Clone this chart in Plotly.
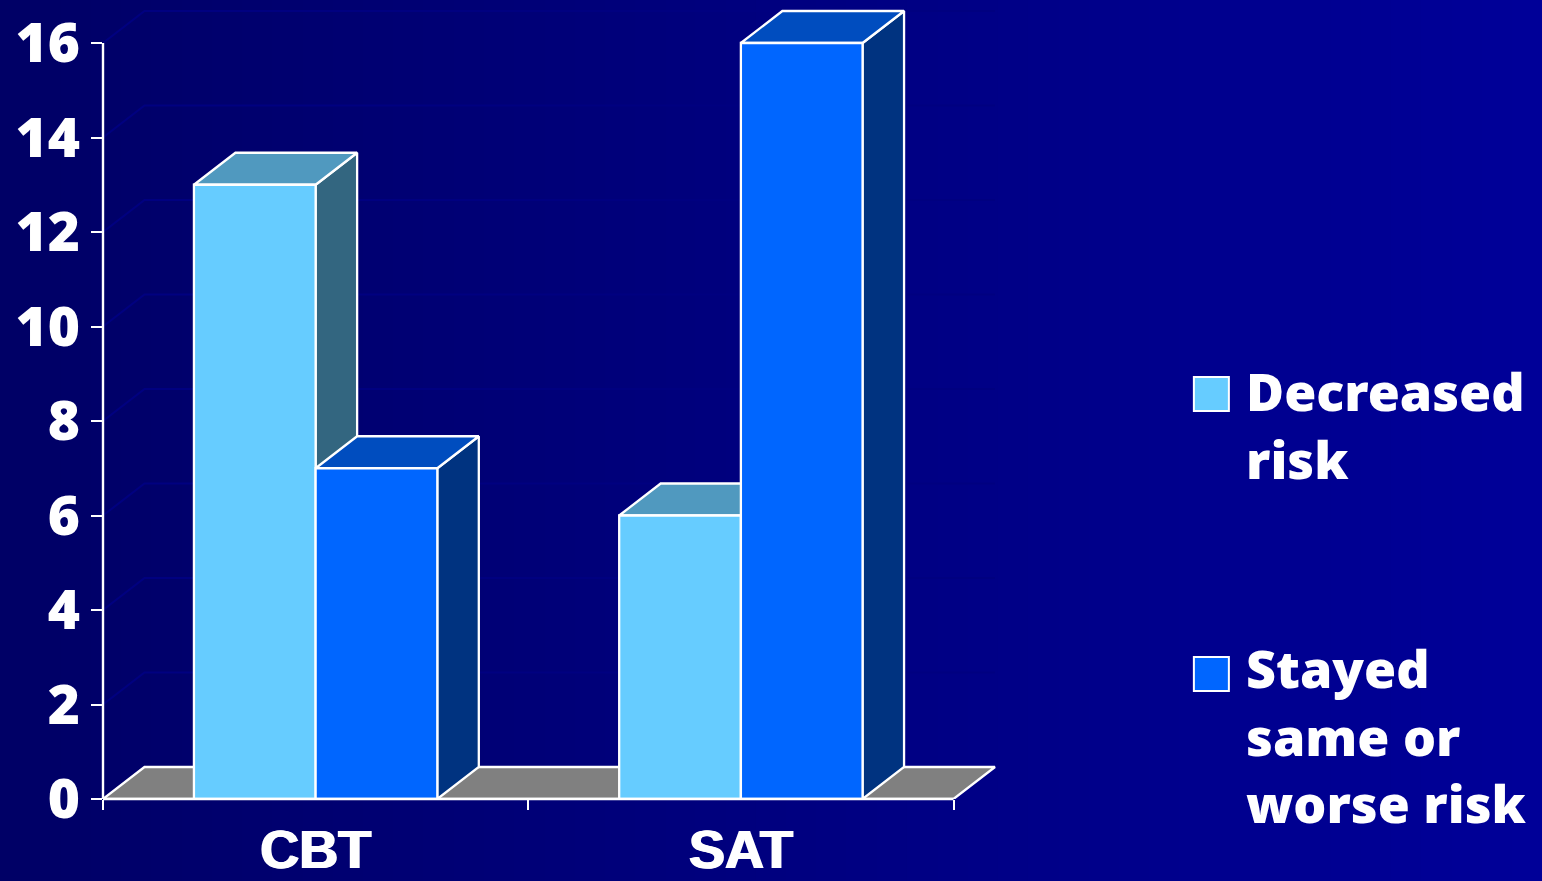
import plotly.graph_objects as go

# Chart data
categories = ["CBT", "SAT"]
series_names = ["Decreased risk", "Stayed same or worse risk"]
decreased_risk = [13, 6]
stayed_same_or_worse = [7, 16]
y_ticks = [0, 2, 4, 6, 8, 10, 12, 14, 16]
legend_labels = ["Decreased<br>risk", "Stayed<br>same or<br>worse risk"]

FONT = "Noto Sans"
FONT_WEIGHT = 900
WHITE = "#ffffff"
W, H = 1542, 881

# Pixel frame of the value axes
L, B = 103, 799
px_x = 425.3
Y16 = 43
px_y = (B - Y16) / max(y_ticks)

# Oblique depth of the boxes, in data units
DX = 41.5 / px_x
DY = 32 / px_y
BAR_W = 121.7 / px_x

n = len(categories)
x_max = n + DX + 4 / px_x
y_max = max(y_ticks) + DY + 4 / px_y
R = L + x_max * px_x
T = B - y_max * px_y

FACE_COLORS = [
    {"front": "#66ccff", "top": "#5099bf", "side": "#336680"},
    {"front": "#0066ff", "top": "#004dbf", "side": "#003380"},
]


def face(xs, ys, fill, name=None):
    return go.Scatter(
        x=xs, y=ys, mode="lines", fill="toself", fillcolor=fill,
        line=dict(color=WHITE, width=2.3),
        hoverinfo="skip", showlegend=False, name=name,
    )


fig = go.Figure()

# Receding grid lines on the back wall
grid_x, grid_y = [], []
for t in y_ticks[1:]:
    grid_x += [0, DX, n + DX, None]
    grid_y += [t, t + DY, t + DY, None]
fig.add_trace(go.Scatter(
    x=grid_x, y=grid_y, mode="lines", line=dict(color="#000080", width=2),
    hoverinfo="skip", showlegend=False,
))

# Floor
fig.add_trace(face([0, n, n + DX, DX, 0], [0, 0, DY, DY, 0], "#808080"))

# Boxes, back to front
for i, cat in enumerate(categories):
    center = i + 0.5
    for j, values in enumerate([decreased_risk, stayed_same_or_worse]):
        v = values[i]
        x0 = center - BAR_W + j * BAR_W
        x1 = x0 + BAR_W
        c = FACE_COLORS[j]
        fig.add_trace(face([x1, x1 + DX, x1 + DX, x1, x1], [0, DY, v + DY, v, 0], c["side"]))
        fig.add_trace(face([x0, x0 + DX, x1 + DX, x1, x0], [v, v + DY, v + DY, v, v], c["top"]))
        fig.add_trace(face([x0, x1, x1, x0, x0], [0, 0, v, v, 0], c["front"], name=series_names[j]))


def to_paper(px, py):
    return (px - L) / (R - L), (B - py) / (B - T)


# Horizontal background gradient, each strip running to the right edge
shapes = []
STEPS = 51
page_left, page_top = to_paper(0, 0)
page_right, page_bottom = to_paper(W, H)
for k in range(STEPS):
    strip_left, _ = to_paper(W * k / STEPS, 0)
    shapes.append(dict(
        type="rect", layer="below", xref="paper", yref="paper",
        x0=strip_left, x1=page_right, y0=page_bottom, y1=page_top,
        fillcolor=f"rgb(0,0,{102 + k})", line=dict(width=0),
    ))

# Axis lines stop at the last tick, short of the floor and wall depth
shapes.append(dict(type="line", xref="x", yref="paper", x0=0, x1=n, y0=0, y1=0,
                   line=dict(color=WHITE, width=2.4)))
shapes.append(dict(type="line", xref="paper", yref="y", x0=0, x1=0, y0=0, y1=max(y_ticks),
                   line=dict(color=WHITE, width=2.4)))

# Legend swatches and text
swatch_tops = [377, 657]
label_centers = [424, 735]
annotations = []
for j, top in enumerate(swatch_tops):
    ax0, ay0 = to_paper(1194, top)
    ax1, ay1 = to_paper(1229, top + 34)
    shapes.append(dict(
        type="rect", xref="paper", yref="paper", x0=ax0, x1=ax1, y0=ay0, y1=ay1,
        fillcolor=FACE_COLORS[j]["front"], line=dict(color=WHITE, width=2),
    ))
    ax, ay = to_paper(1245, label_centers[j])
    annotations.append(dict(
        text=legend_labels[j], xref="paper", yref="paper", x=ax, y=ay, xanchor="left",
        yanchor="middle", showarrow=False, align="left",
        font=dict(family=FONT, size=52, color=WHITE, weight=FONT_WEIGHT),
        borderpad=0,
    ))

fig.update_layout(
    width=W, height=H, autosize=False,
    margin=dict(l=L, r=W - R, t=T, b=H - B, pad=0),
    paper_bgcolor="#000066", plot_bgcolor="rgba(0,0,0,0)",
    showlegend=False, shapes=shapes, annotations=annotations,
    xaxis=dict(
        range=[0, x_max], tickmode="array", automargin=False,
        tickvals=[i + 0.5 for i in range(n)], ticktext=categories,
        ticks="", showgrid=False, zeroline=False, showline=False,
        ticklabelstandoff=14,
        tickfont=dict(family="Liberation Sans", size=54, color=WHITE, weight="bold",
                      shadow="1px 0 0 #ffffff, -1px 0 0 #ffffff"),
        minor=dict(tickmode="array", tickvals=list(range(n + 1)), ticks="outside",
                   ticklen=10, tickwidth=2, tickcolor=WHITE, showgrid=False),
    ),
    yaxis=dict(
        range=[0, y_max], tickmode="array", tickvals=y_ticks, automargin=False,
        ticktext=[str(t) for t in y_ticks],
        ticks="outside", ticklen=11, tickwidth=2, tickcolor=WHITE,
        showgrid=False, zeroline=False, showline=False,
        tickfont=dict(family=FONT, size=55, color=WHITE, weight=FONT_WEIGHT),
    ),
    hovermode=False,
)

fig.write_html("out.html", config={"displayModeBar": False})
